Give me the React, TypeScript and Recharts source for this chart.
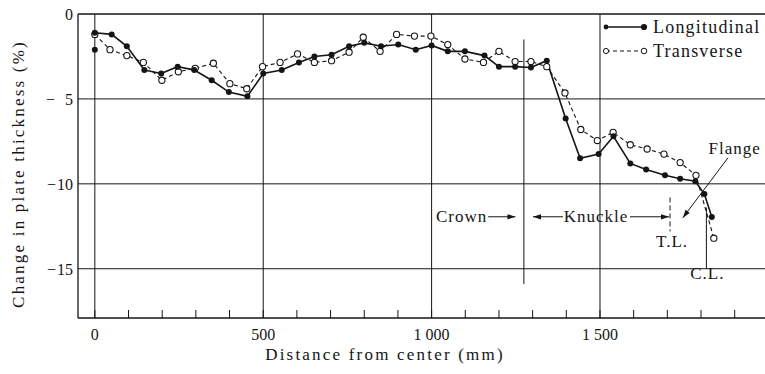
import {
  ComposedChart,
  Legend,
  Line,
  ReferenceDot,
  ReferenceLine,
  XAxis,
  YAxis,
} from "recharts";

// readings, distance from center (mm) vs change in thickness (%)
const longitudinalMm = [
  0, 50, 95, 147, 197, 246, 295, 347, 398, 453, 500, 555, 606, 652, 703, 755,
  800, 850, 901, 953, 1000, 1048, 1099, 1157, 1200, 1248, 1295, 1342, 1398,
  1441, 1496, 1540, 1590, 1637, 1693, 1738, 1783, 1810, 1832,
];
const longitudinalPct = [
  -1.1, -1.2, -1.9, -3.3, -3.5, -3.1, -3.3, -3.9, -4.6, -4.85, -3.5, -3.3,
  -2.85, -2.5, -2.4, -1.9, -1.7, -1.9, -1.8, -2.1, -1.85, -2.2, -2.2, -2.45,
  -3.1, -3.1, -3.15, -2.75, -6.15, -8.5, -8.25, -7.2, -8.8, -9.15, -9.5, -9.7,
  -9.85, -10.6, -11.95,
];
const transverseMm = [
  0, 45, 95, 144, 199, 248, 298, 352, 401, 451, 498, 550, 602, 652, 703, 755,
  797, 847, 896, 949, 998, 1048, 1099, 1154, 1200, 1248, 1295, 1342, 1396,
  1443, 1492, 1539, 1590, 1640, 1690, 1738, 1785, 1838,
];
const transversePct = [
  -1.2, -2.1, -2.45, -2.85, -3.9, -3.4, -3.2, -2.9, -4.1, -4.4, -3.1, -2.85,
  -2.35, -2.85, -2.75, -2.25, -1.37, -2.2, -1.2, -1.3, -1.3, -1.8, -2.65,
  -2.85, -2.2, -2.8, -2.8, -3.1, -4.65, -6.8, -7.45, -6.97, -7.7, -7.95, -8.25,
  -8.75, -9.5, -13.2,
];
// lone reading at the center
const strayMm = [0];
const strayPct = [-2.1];

const xTicks = [
  0, 100, 200, 300, 400, 500, 600, 700, 800, 900, 1000, 1100, 1200, 1300,
  1400, 1500, 1600, 1700, 1800, 1900,
];
const xTickLabels: Record<number, string> = {
  0: "0",
  500: "500",
  1000: "1 000",
  1500: "1 500",
};
const yTicks = [0, -5, -10, -15];
const gridMm = [0, 500, 1000, 1500];
const gridPct = [-5, -10, -15];
const legendNames = ["Longitudinal", "Transverse"];

// zone boundaries (mm)
const crownEndMm = 1274;
const tangentMm = 1708;
const centreLineMm = 1816;

const FONT = '"Liberation Serif", "DejaVu Serif", serif';
const INK = "#151515";

const longitudinal = longitudinalMm.map((mm, i) => ({ mm, pct: longitudinalPct[i] }));
const transverse = transverseMm.map((mm, i) => ({ mm, pct: transversePct[i] }));

function XTick(props: any) {
  const { x, y, payload } = props;
  const label = xTickLabels[payload.value];
  return (
    <g>
      <line x1={x} x2={x} y1={y} y2={y - 8} stroke={INK} strokeWidth={1} />
      {label ? (
        <text
          x={x}
          y={y + 16}
          textAnchor="middle"
          dominantBaseline="central"
          fontFamily={FONT}
          fontSize={16}
          fill={INK}
        >
          {label}
        </text>
      ) : null}
    </g>
  );
}

function YTick(props: any) {
  const { x, y, payload } = props;
  const v = Number(payload.value);
  const digits = String(Math.abs(v));
  return (
    <text
      x={x - 5}
      y={y}
      textAnchor="end"
      dominantBaseline="central"
      fontFamily={FONT}
      fontSize={16}
      fill={INK}
    >
      {v < 0 ? <tspan>{"\u2212"}</tspan> : null}
      <tspan dx={v < 0 ? (digits.length === 1 ? 10 : 1) : 0}>{digits}</tspan>
    </text>
  );
}

function filledDot(p: any) {
  if (p.cx == null) return null;
  return <circle key={`f-${p.index}`} cx={p.cx} cy={p.cy} r={3} fill={INK} />;
}

function hollowDot(p: any) {
  if (p.cx == null) return null;
  return (
    <circle
      key={`h-${p.index}`}
      cx={p.cx}
      cy={p.cy}
      r={3.1}
      fill="#fff"
      stroke={INK}
      strokeWidth={1.1}
    />
  );
}

function arrowHead(angle: number) {
  return (p: any) => (
    <path
      d="M0,0 L-8,-2.6 L-8,2.6 Z"
      transform={`translate(${p.cx},${p.cy}) rotate(${angle})`}
      fill={INK}
    />
  );
}

function note(text: string) {
  return (p: any) => (
    <text
      x={p.cx}
      y={p.cy}
      textAnchor="middle"
      dominantBaseline="central"
      fontFamily={FONT}
      fontSize={17}
      letterSpacing={1}
      fill={INK}
    >
      {text}
    </text>
  );
}

function LegendBox() {
  return (
    <svg width={165} height={52} style={{ display: "block" }}>
      {legendNames.map((name, i) => {
        const y = 13 + i * 24;
        const solid = i === 0;
        return (
          <g key={name}>
            <line
              x1={6}
              x2={44}
              y1={y}
              y2={y}
              stroke={INK}
              strokeWidth={solid ? 1.6 : 1.1}
              strokeDasharray={solid ? undefined : "4 3"}
            />
            {solid ? (
              <>
                <circle cx={6} cy={y} r={2.4} fill={INK} />
                <circle cx={44} cy={y} r={3.1} fill={INK} />
              </>
            ) : (
              <>
                <circle cx={6} cy={y} r={2.6} fill="#fff" stroke={INK} />
                <circle cx={44} cy={y} r={2.8} fill="#fff" stroke={INK} />
              </>
            )}
            <text
              x={53}
              y={y}
              dominantBaseline="central"
              fontFamily={FONT}
              fontSize={18}
              letterSpacing={1.2}
              fill={INK}
            >
              {name}
            </text>
          </g>
        );
      })}
    </svg>
  );
}

export default function App() {
  return (
    <div
      style={{
        position: "absolute",
        left: 0,
        top: 0,
        width: 765,
        height: 374,
        background: "#fff",
      }}
    >
      <ComposedChart
        width={765}
        height={374}
        margin={{ top: 14, right: 0, bottom: 0, left: 0 }}
      >
        <XAxis
          dataKey="mm"
          type="number"
          domain={[-50, 1990]}
          ticks={xTicks}
          interval={0}
          allowDataOverflow
          height={56}
          tickLine={false}
          tickSize={0}
          tickMargin={0}
          tick={<XTick />}
          axisLine={{ stroke: INK, strokeWidth: 1.3 }}
          label={{
            content: (p: any) => (
              <text
                x={385}
                y={(p.viewBox?.y ?? 318) + 36}
                textAnchor="middle"
                dominantBaseline="central"
                fontFamily={FONT}
                fontSize={17}
                letterSpacing={2.2}
                fill={INK}
              >
                Distance from center (mm)
              </text>
            ),
          }}
        />
        <YAxis
          type="number"
          domain={[-17.9, 0]}
          ticks={yTicks}
          interval={0}
          allowDataOverflow
          width={78}
          tickLine={false}
          tickSize={0}
          tickMargin={0}
          tick={<YTick />}
          axisLine={{ stroke: INK, strokeWidth: 1.3 }}
          label={{
            content: () => (
              <text
                x={18}
                y={174}
                textAnchor="middle"
                dominantBaseline="central"
                fontFamily={FONT}
                fontSize={17}
                letterSpacing={2.2}
                fill={INK}
                transform="rotate(-90 18 174)"
              >
                Change in plate thickness (%)
              </text>
            ),
          }}
        />
        <Legend
          layout="vertical"
          align="center"
          verticalAlign="middle"
          wrapperStyle={{ top: 14, left: 600, width: 165, height: 52 }}
          content={() => <LegendBox />}
        />

        <ReferenceLine y={0} stroke={INK} strokeWidth={1.3} />
        {gridMm.map((mm) => (
          <ReferenceLine key={`gx-${mm}`} x={mm} stroke={INK} strokeWidth={1} />
        ))}
        {gridPct.map((v) => (
          <ReferenceLine key={`gy-${v}`} y={v} stroke={INK} strokeWidth={1} />
        ))}

        {/* zone markers */}
        <ReferenceLine
          segment={[
            { x: crownEndMm, y: -1.5 },
            { x: crownEndMm, y: -15.9 },
          ]}
          stroke={INK}
          strokeWidth={1}
          ifOverflow="visible"
        />
        <ReferenceLine
          segment={[
            { x: tangentMm, y: -10.8 },
            { x: tangentMm, y: -12.8 },
          ]}
          stroke={INK}
          strokeWidth={1}
          strokeDasharray="5 3"
          ifOverflow="visible"
        />
        <ReferenceLine
          segment={[
            { x: centreLineMm, y: -11.4 },
            { x: centreLineMm, y: -15 },
          ]}
          stroke={INK}
          strokeWidth={1}
          ifOverflow="visible"
        />

        {/* Crown / Knuckle arrows */}
        <ReferenceLine
          segment={[
            { x: 1168, y: -11.94 },
            { x: 1249, y: -11.94 },
          ]}
          stroke={INK}
          strokeWidth={1}
          ifOverflow="visible"
        />
        <ReferenceLine
          segment={[
            { x: 1301, y: -11.94 },
            { x: 1390, y: -11.94 },
          ]}
          stroke={INK}
          strokeWidth={1}
          ifOverflow="visible"
        />
        <ReferenceLine
          segment={[
            { x: 1589, y: -11.94 },
            { x: 1705, y: -11.94 },
          ]}
          stroke={INK}
          strokeWidth={1}
          ifOverflow="visible"
        />
        <ReferenceLine
          segment={[
            { x: 1880, y: -8.47 },
            { x: 1746, y: -12.0 },
          ]}
          stroke={INK}
          strokeWidth={1}
          ifOverflow="visible"
        />
        <ReferenceDot x={1249} y={-11.94} r={1} shape={arrowHead(0)} />
        <ReferenceDot x={1301} y={-11.94} r={1} shape={arrowHead(180)} />
        <ReferenceDot x={1705} y={-11.94} r={1} shape={arrowHead(0)} />
        <ReferenceDot x={1746} y={-12.0} r={1} shape={arrowHead(126.9)} />

        <ReferenceDot x={1089} y={-11.94} r={1} shape={note("Crown")} />
        <ReferenceDot x={1488} y={-11.94} r={1} shape={note("Knuckle")} />
        <ReferenceDot x={1714} y={-13.4} r={1} shape={note("T.L.")} />
        <ReferenceDot x={1819} y={-15.3} r={1} shape={note("C.L.")} />
        <ReferenceDot x={1900} y={-7.9} r={1} shape={note("Flange")} />

        <Line
          data={transverse}
          dataKey="pct"
          name="Transverse"
          type="linear"
          stroke={INK}
          strokeWidth={1.1}
          strokeDasharray="4 3"
          dot={hollowDot}
          activeDot={false}
          isAnimationActive={false}
        />
        <Line
          data={longitudinal}
          dataKey="pct"
          name="Longitudinal"
          type="linear"
          stroke={INK}
          strokeWidth={1.6}
          dot={filledDot}
          activeDot={false}
          isAnimationActive={false}
        />
        {strayMm.map((mm, i) => (
          <ReferenceDot
            key={`s-${mm}`}
            x={mm}
            y={strayPct[i]}
            r={3}
            fill={INK}
            stroke="none"
          />
        ))}
      </ComposedChart>
    </div>
  );
}
